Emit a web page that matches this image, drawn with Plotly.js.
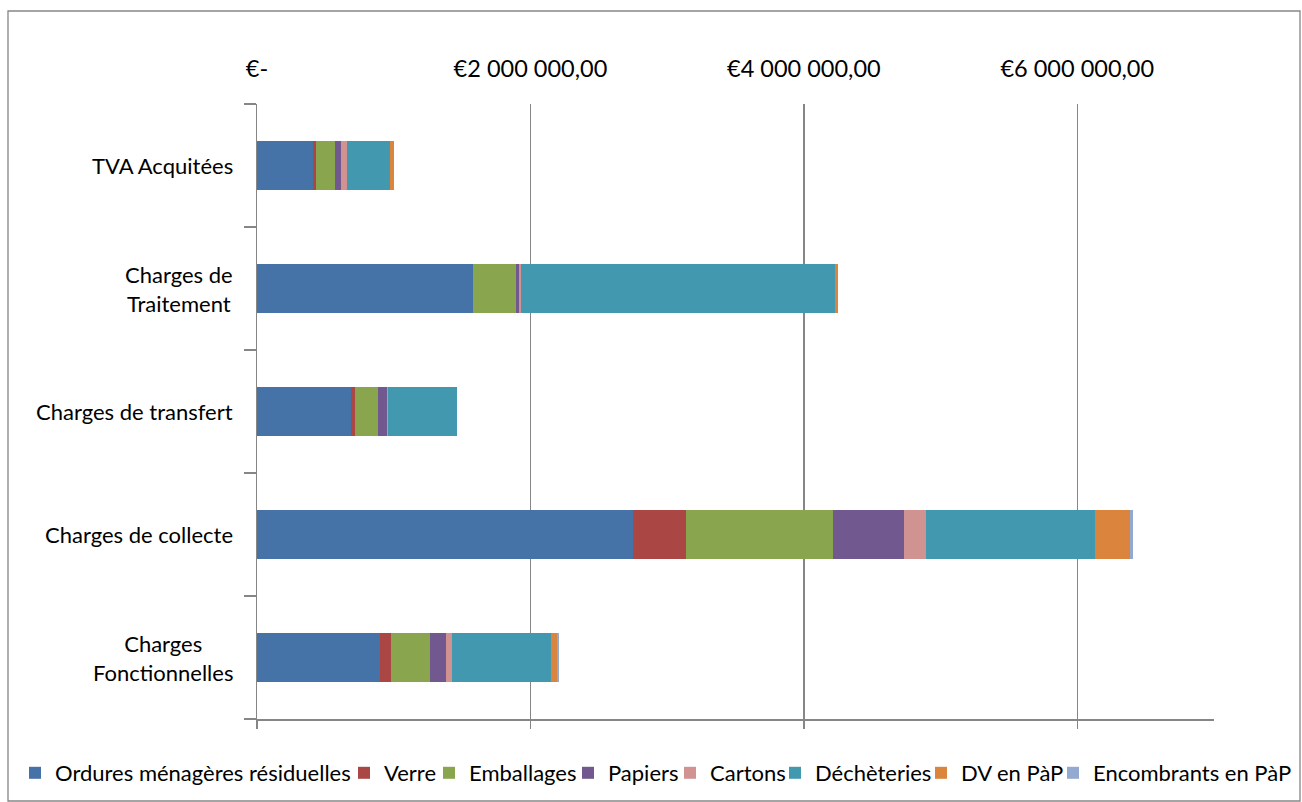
<!DOCTYPE html>
<html><head><meta charset="utf-8">
<script src="https://cdn.plot.ly/plotly-3.0.1.min.js"></script>
<style>html,body{margin:0;padding:0;background:#fff}#chart{width:1302px;height:802px}</style>
</head><body><div id="chart"></div>
<script>
// ---- data ----
const categories = ['Charges<br>Fonctionnelles', 'Charges de collecte', 'Charges de transfert', 'Charges de<br>Traitement', 'TVA Acquitées'];
const seriesNames = ['Ordures ménagères résiduelles', 'Verre', 'Emballages', 'Papiers', 'Cartons', 'Déchèteries', 'DV en PàP', 'Encombrants en PàP'];
const ordures     = [900000, 2753000, 688000, 1580000, 410000];
const verre       = [83000, 385000, 29000, 0, 24000];
const emballages  = [285000, 1073000, 166000, 314000, 137000];
const papiers     = [117000, 522000, 66000, 22000, 44000];
const cartons     = [39000, 163000, 10000, 15000, 44000];
const decheteries = [729000, 1236000, 503000, 2300000, 315000];
const dvPaP       = [44000, 251000, 0, 16000, 29000];
const encombrants = [12000, 26000, 0, 0, 0];
const xTickVals = [0, 2000000, 4000000, 6000000];
const xTickText = ['€-', '€2 000 000,00', '€4 000 000,00', '€6 000 000,00'];

// ---- style ----
const colors = ['#4572A7', '#AA4643', '#89A54E', '#71588F', '#D19392', '#4198AF', '#DB843D', '#93A9CF'];
const FONT = 'Lato, "Open Sans", sans-serif';
const FS = 22;
const grey = '#868686';
const M = {l: 257, r: 88, t: 104, b: 83, autoexpand: false};
const W = 1302, H = 802;
const pw = W - M.l - M.r, ph = H - M.t - M.b;
const px2x = p => (p - M.l) / pw;
const py2y = p => (H - M.b - p) / ph;
// legend text start positions (px)
const legendTextStart = [60, 389, 474, 613, 715, 820, 966, 1098];

const allSeries = [ordures, verre, emballages, papiers, cartons, decheteries, dvPaP, encombrants];
const traces = allSeries.map((vals, i) => ({
  type: 'bar', orientation: 'h', name: seriesNames[i],
  x: vals, y: categories,
  marker: {color: colors[i], line: {width: 0}},
  legend: i === 0 ? 'legend' : 'legend' + (i + 1),
  hoverinfo: 'name+x'
}));
traces.push({type: 'scatter', mode: 'markers', x: [null], y: [categories[0]], xaxis: 'x2', showlegend: false, hoverinfo: 'skip'});

const layout = {
  width: W, height: H,
  margin: M,
  paper_bgcolor: '#fff', plot_bgcolor: '#fff',
  barmode: 'stack', bargap: 0.6,
  font: {family: FONT, size: FS, color: '#000'},
  xaxis: {
    side: 'top', range: [0, 7000000], tickmode: 'array', tickvals: xTickVals, ticktext: xTickText,
    showgrid: true, gridcolor: grey, gridwidth: 1.5, zeroline: false, showline: false, ticks: '',
    ticklabelstandoff: 21, tickfont: {family: FONT, size: 23.5, color: '#000'}, fixedrange: true
  },
  xaxis2: {
    overlaying: 'x', side: 'bottom', anchor: 'y', range: [0, 7000000], tickmode: 'array', tickvals: xTickVals,
    showticklabels: false, ticks: 'outside', ticklen: 8, tickcolor: grey, tickwidth: 1.5,
    showline: true, linecolor: grey, linewidth: 1.5, showgrid: false, zeroline: false, fixedrange: true
  },
  yaxis: {
    type: 'category', range: [-0.5, 4.5], showline: true, linecolor: grey, linewidth: 1.5,
    ticks: 'outside', tickson: 'boundaries', ticklen: 12, tickcolor: grey, tickwidth: 1.5,
    showticklabels: false, showgrid: false, zeroline: false, fixedrange: true
  },
  annotations: categories.map(c => ({
    xref: 'paper', yref: 'y', x: px2x(235), y: c, xanchor: 'right', yanchor: 'middle',
    text: c, showarrow: false, align: 'center', font: {family: FONT, size: FS, color: '#000'}
  })),
  shapes: [{
    type: 'rect', xref: 'paper', yref: 'paper', x0: px2x(8), x1: px2x(1300), y0: py2y(801), y1: py2y(11),
    line: {color: grey, width: 1.3}, fillcolor: 'rgba(0,0,0,0)', layer: 'below'
  }],
  showlegend: true
};
legendTextStart.forEach((p, i) => {
  const key = i === 0 ? 'legend' : 'legend' + (i + 1);
  layout[key] = {
    orientation: 'h', x: px2x(p - 45), xanchor: 'left', y: py2y(773), yanchor: 'middle',
    font: {family: FONT, size: FS, color: '#000'}, bgcolor: 'rgba(0,0,0,0)', borderwidth: 0, itemwidth: 30
  };
});

Plotly.newPlot('chart', traces, layout, {displayModeBar: false, staticPlot: true});
</script>
</body></html>
